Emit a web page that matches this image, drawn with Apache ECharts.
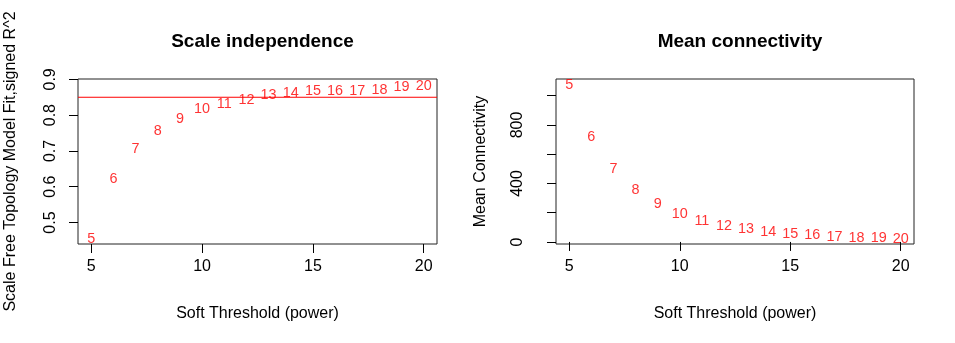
<!DOCTYPE html>
<html>
<head>
<meta charset="utf-8">
<script src="https://cdn.jsdelivr.net/npm/echarts@6/dist/echarts.min.js"></script>
<style>
html,body{margin:0;padding:0;background:#fff;}
#chart{width:955px;height:343px;}
</style>
</head>
<body>
<div id="chart"></div>
<script>
// ---- data ----
const powers = [5,6,7,8,9,10,11,12,13,14,15,16,17,18,19,20];
const sftR2 = [0.455,0.621,0.705,0.757,0.788,0.816,0.832,0.841,0.855,0.861,0.867,0.866,0.866,0.869,0.878,0.882];
const meanK = [1073,716,499,356,260,191,144,111,87,66,55,48,34,25,25,18];
const cutoffR2 = 0.85;
const xTicks = [5,10,15,20];
const leftYTicks = [0.5,0.6,0.7,0.8,0.9];
const rightYTicks = [0,200,400,600,800,1000];
const rightYLabels = [0,400,800];
const titles = ['Scale independence','Mean connectivity'];
const xName = 'Soft Threshold (power)';
const yNames = ['Scale Free Topology Model Fit,signed R^2','Mean Connectivity'];

const FONT = 'Liberation Sans, Arial, Helvetica, sans-serif';
const RED = '#ff0000';
const X_MIN = 4.4, X_MAX = 20.6;
const chart = echarts.init(document.getElementById('chart'), null, {renderer:'canvas'});

function xAxisCfg(gi){
  return {
    type:'value', gridIndex:gi, min:X_MIN, max:X_MAX,
    axisLine:{show:false},
    splitLine:{show:false},
    axisTick:{show:true, inside:false, length:9, customValues:xTicks, lineStyle:{color:'#000',width:1}},
    axisLabel:{show:true, customValues:xTicks, margin:15, color:'#000', fontSize:16, fontFamily:FONT},
    name:xName, nameLocation:'middle', nameGap:62,
    nameTextStyle:{color:'#000', fontSize:16, fontFamily:FONT}
  };
}

const option = {
  animation:false,
  backgroundColor:'#fff',
  title:[
    {text:titles[0], left:257.5, top:27, textAlign:'center',
     textStyle:{fontSize:19, fontWeight:'bold', color:'#000', fontFamily:FONT}},
    {text:titles[1], left:735, top:27, textAlign:'center',
     textStyle:{fontSize:19, fontWeight:'bold', color:'#000', fontFamily:FONT}}
  ],
  grid:[
    {left:78, right:518, top:79, bottom:99, show:true, borderColor:'#222', borderWidth:1, backgroundColor:'transparent'},
    {left:556, right:41, top:79, bottom:99, show:true, borderColor:'#222', borderWidth:1, backgroundColor:'transparent'}
  ],
  xAxis:[xAxisCfg(0), xAxisCfg(1)],
  yAxis:[
    {type:'value', gridIndex:0, min:0.44, max:0.901,
     axisLine:{show:false}, splitLine:{show:false},
     axisTick:{show:true, length:9, customValues:leftYTicks, lineStyle:{color:'#000'}},
     axisLabel:{show:true, customValues:leftYTicks, rotate:90, margin:19, color:'#000', fontSize:16, fontFamily:FONT,
       formatter:v=>v.toFixed(1)},
     name:yNames[0], nameLocation:'middle', nameRotate:90, nameGap:59,
     nameTextStyle:{color:'#000', fontSize:16, fontFamily:FONT}},
    {type:'value', gridIndex:1, min:-14, max:1114,
     axisLine:{show:false}, splitLine:{show:false},
     axisTick:{show:true, length:9, customValues:rightYTicks, lineStyle:{color:'#000'}},
     axisLabel:{show:true, customValues:rightYLabels, rotate:90, margin:30, color:'#000', fontSize:16, fontFamily:FONT},
     name:yNames[1], nameLocation:'middle', nameRotate:90, nameGap:67,
     nameTextStyle:{color:'#000', fontSize:16, fontFamily:FONT}}
  ],
  series:[
    {type:'line', xAxisIndex:0, yAxisIndex:0, showSymbol:false, silent:true,
     lineStyle:{color:RED, width:1}, itemStyle:{color:RED},
     data:[[X_MIN, cutoffR2],[X_MAX, cutoffR2]], z:1},
    {type:'scatter', xAxisIndex:0, yAxisIndex:0, symbolSize:0,
     itemStyle:{color:RED},
     data:powers.map((p,i)=>[p,sftR2[i]]),
     label:{show:true, position:'inside', formatter:p=>String(p.value[0]), color:RED, fontSize:14.4, fontFamily:FONT}},
    {type:'scatter', xAxisIndex:1, yAxisIndex:1, symbolSize:0,
     itemStyle:{color:RED},
     data:powers.map((p,i)=>[p,meanK[i]]),
     label:{show:true, position:'inside', formatter:p=>String(p.value[0]), color:RED, fontSize:14.4, fontFamily:FONT}}
  ]
};
chart.setOption(option);
</script>
</body>
</html>
